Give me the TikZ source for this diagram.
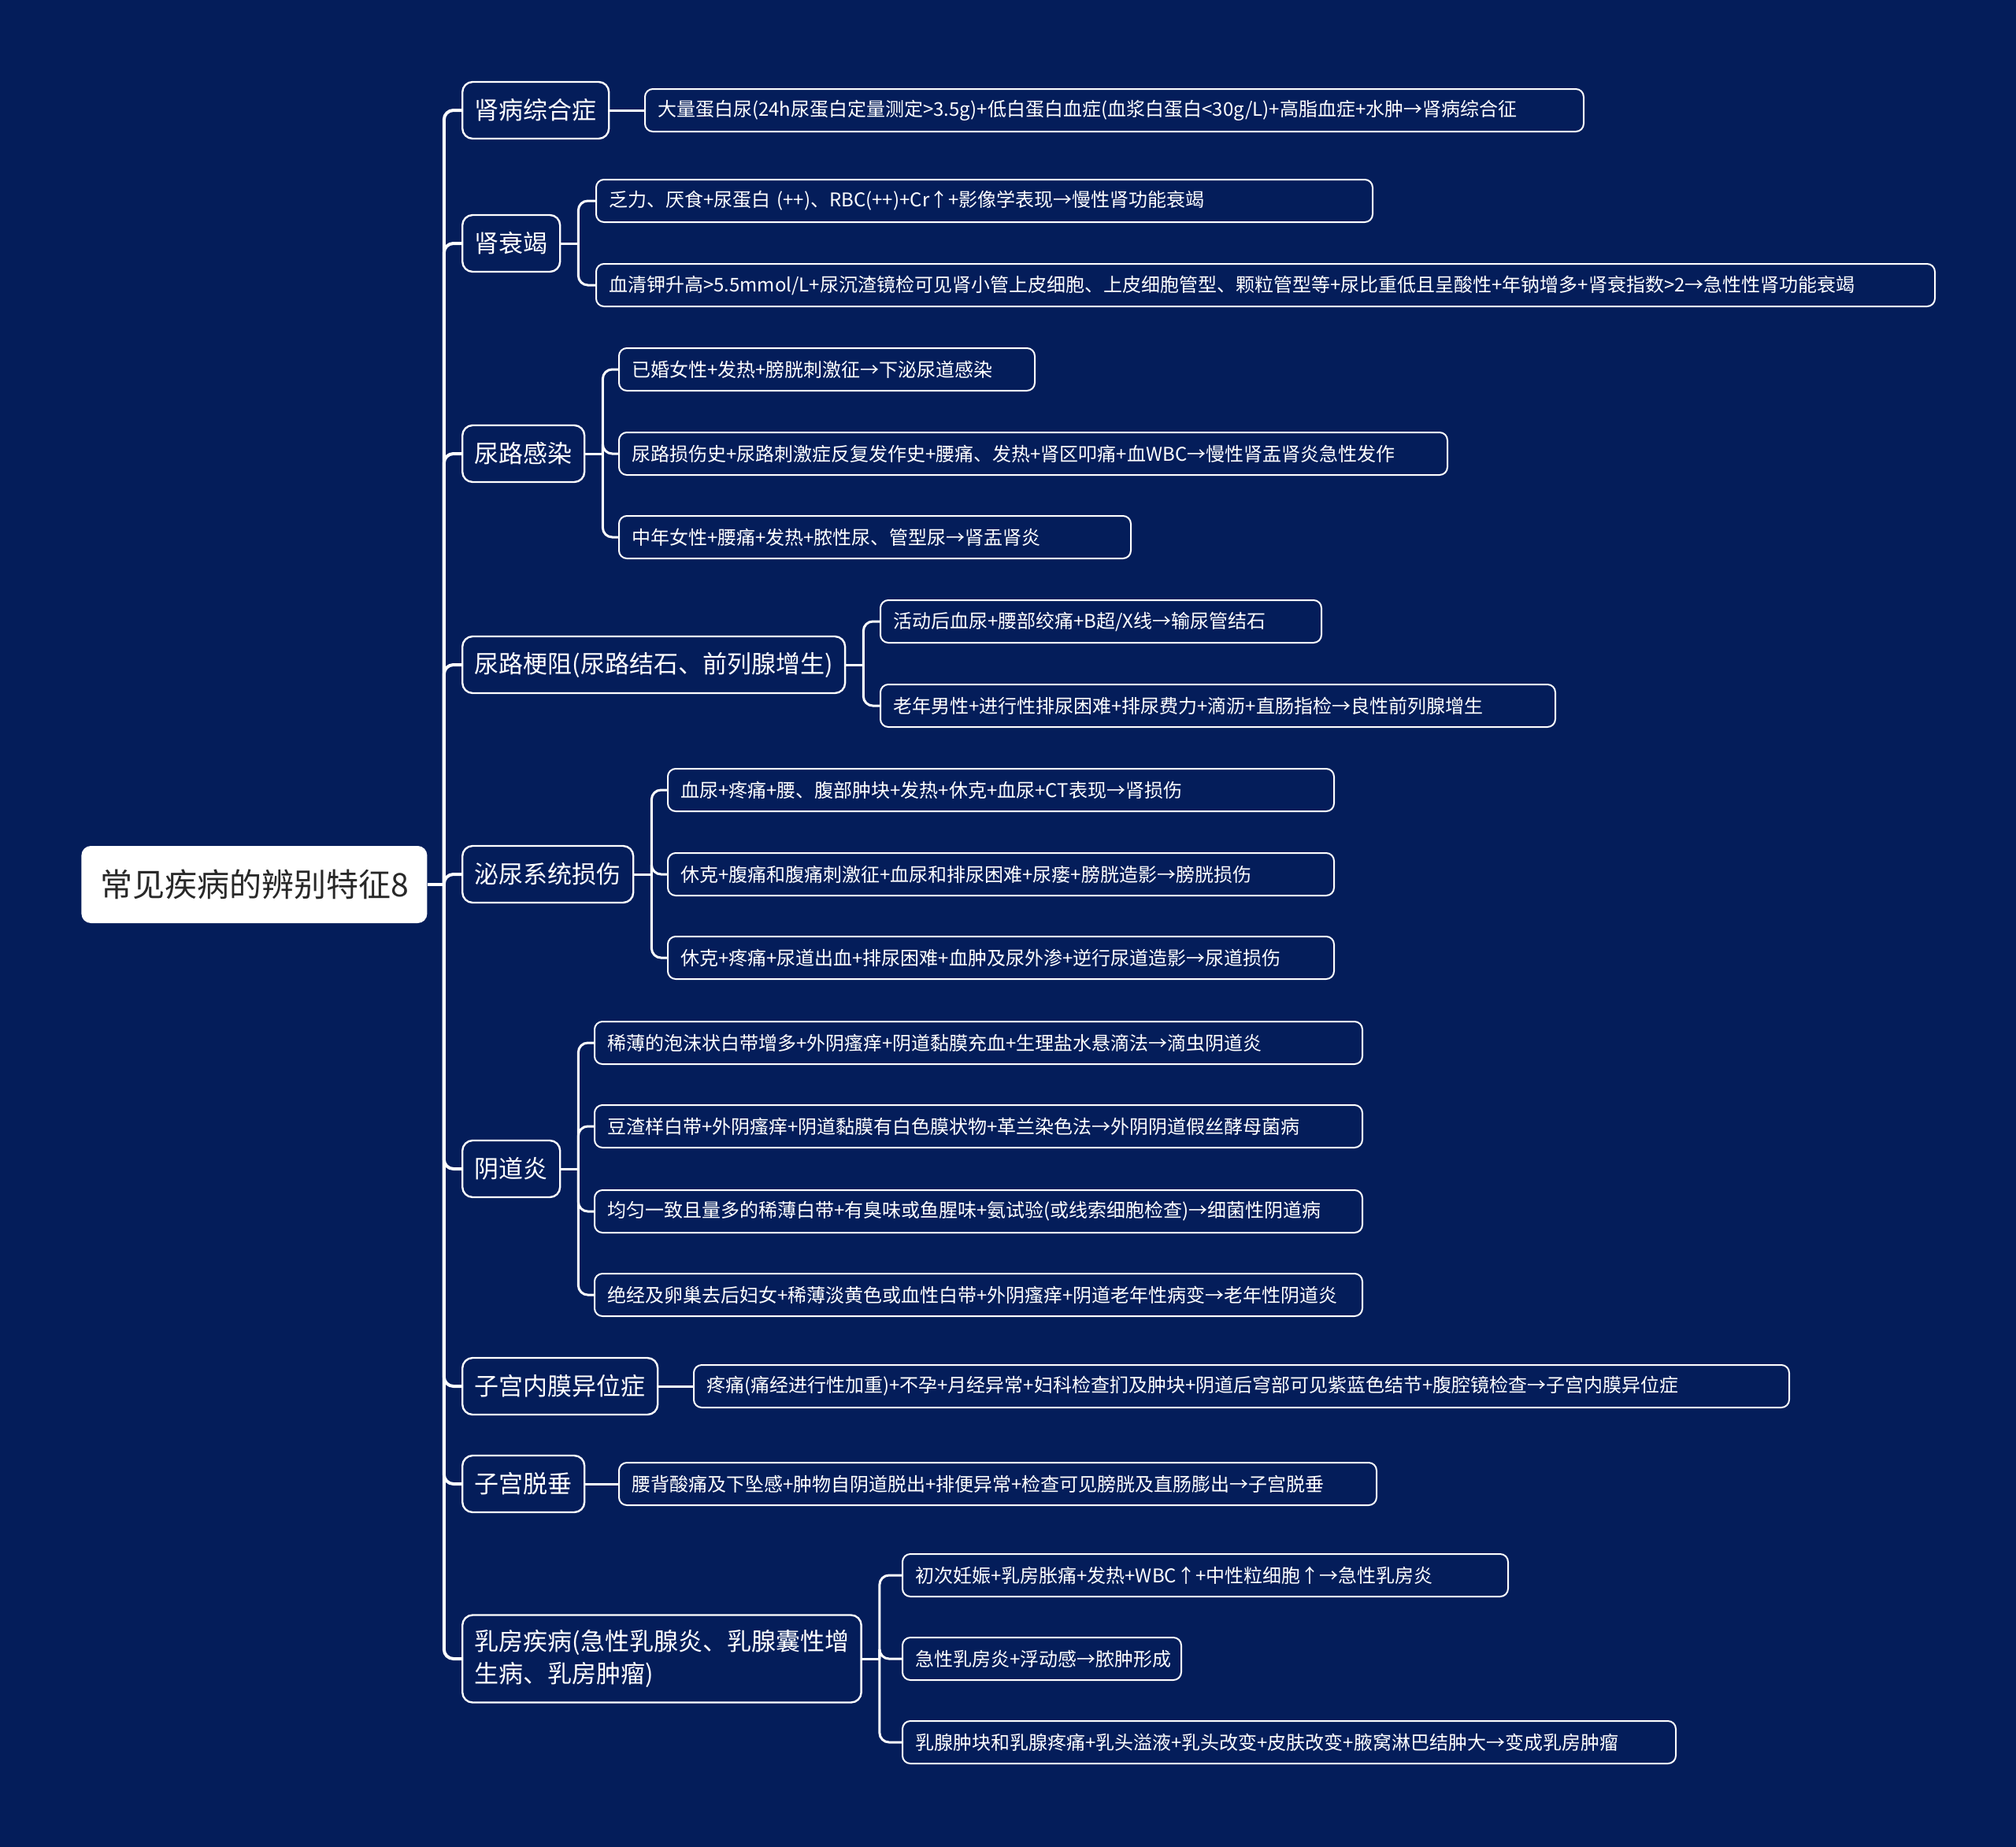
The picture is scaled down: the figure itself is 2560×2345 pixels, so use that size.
\documentclass[tikz,border=0pt]{standalone}
\usepackage{fontspec}
\setmainfont{Noto Sans CJK SC}
\usetikzlibrary{positioning}
\definecolor{navy}{RGB}{4,29,90}
\definecolor{rootink}{RGB}{40,40,40}

\begin{document}
\begin{tikzpicture}[x=0.5pt,y=-0.5pt,
    trunk/.style={draw=white,line width=2pt,rounded corners=6pt},
    twig/.style={draw=white,line width=1.5pt,rounded corners=6pt},
    rootbox/.style={fill=white,text=rootink,rounded corners=6pt,anchor=west,
      minimum width=219.5pt,minimum height=49pt,font=\fontsize{20.5pt}{24pt}\selectfont},
    topic/.style={draw=white,line width=1.2pt,fill=navy,text=white,rounded corners=6.5pt,
      anchor=west,minimum height=36pt,inner xsep=7.75pt,inner ysep=4pt,align=left,
      font=\fontsize{15.5pt}{20.5pt}\selectfont},
    leaf/.style={draw=white,line width=1pt,fill=navy,text=white,rounded corners=5pt,
      anchor=west,minimum height=27pt,inner xsep=8pt,inner ysep=2pt,text width=#1,
      align=left,font=\fontsize{12pt}{15pt}\selectfont}]
  \fill[navy] (0,0) rectangle (2560,2345);
  \useasboundingbox (0,0) rectangle (2560,2345);

  \node[rootbox] (root) at (103,1123) {常见疾病的辨别特征8};

  % main branches
  \node[topic] (m1) at (586,140) {肾病综合症};
  \node[topic] (m2) at (586,309) {肾衰竭};
  \node[topic] (m3) at (586,576) {尿路感染};
  \node[topic] (m4) at (586,844) {尿路梗阻(尿路结石、前列腺增生)};
  \node[topic] (m5) at (586,1110) {泌尿系统损伤};
  \node[topic] (m6) at (586,1484) {阴道炎};
  \node[topic] (m7) at (586,1760) {子宫内膜异位症};
  \node[topic] (m8) at (586,1884) {子宫脱垂};
  \node[topic,minimum height=55.5pt] (m9) at (586,2106) {乳房疾病(急性乳腺炎、乳腺囊性增\\生病、乳房肿瘤)};

  % leaves
  \node[leaf=580pt] (m1a) at (818,140) {大量蛋白尿(24h尿蛋白定量测定>3.5g)+低白蛋白血症(血浆白蛋白<30g/L)+高脂血症+水肿→肾病综合征};
  \node[leaf=477pt] (m2a) at (756,255) {乏力、厌食+尿蛋白 (++)、RBC(++)+Cr↑+影像学表现→慢性肾功能衰竭};
  \node[leaf=834pt] (m2b) at (756,362) {血清钾升高>5.5mmol/L+尿沉渣镜检可见肾小管上皮细胞、上皮细胞管型、颗粒管型等+尿比重低且呈酸性+年钠增多+肾衰指数>2→急性性肾功能衰竭};
  \node[leaf=248pt] (m3a) at (785,469) {已婚女性+发热+膀胱刺激征→下泌尿道感染};
  \node[leaf=510pt] (m3b) at (785,576) {尿路损伤史+尿路刺激症反复发作史+腰痛、发热+肾区叩痛+血WBC→慢性肾盂肾炎急性发作};
  \node[leaf=309pt] (m3c) at (785,682) {中年女性+腰痛+发热+脓性尿、管型尿→肾盂肾炎};
  \node[leaf=264pt] (m4a) at (1117,789) {活动后血尿+腰部绞痛+B超/X线→输尿管结石};
  \node[leaf=412.5pt] (m4b) at (1117,896) {老年男性+进行性排尿困难+排尿费力+滴沥+直肠指检→良性前列腺增生};
  \node[leaf=407pt] (m5a) at (847,1003) {血尿+疼痛+腰、腹部肿块+发热+休克+血尿+CT表现→肾损伤};
  \node[leaf=407pt] (m5b) at (847,1110) {休克+腹痛和腹痛刺激征+血尿和排尿困难+尿瘘+膀胱造影→膀胱损伤};
  \node[leaf=407pt] (m5c) at (847,1216) {休克+疼痛+尿道出血+排尿困难+血肿及尿外渗+逆行尿道造影→尿道损伤};
  \node[leaf=471.5pt] (m6a) at (754,1324) {稀薄的泡沫状白带增多+外阴瘙痒+阴道黏膜充血+生理盐水悬滴法→滴虫阴道炎};
  \node[leaf=471.5pt] (m6b) at (754,1430) {豆渣样白带+外阴瘙痒+阴道黏膜有白色膜状物+革兰染色法→外阴阴道假丝酵母菌病};
  \node[leaf=471.5pt] (m6c) at (754,1538) {均匀一致且量多的稀薄白带+有臭味或鱼腥味+氨试验(或线索细胞检查)→细菌性阴道病};
  \node[leaf=471.5pt] (m6d) at (754,1644) {绝经及卵巢去后妇女+稀薄淡黄色或血性白带+外阴瘙痒+阴道老年性病变→老年性阴道炎};
  \node[leaf=679.5pt] (m7a) at (880,1760) {疼痛(痛经进行性加重)+不孕+月经异常+妇科检查扪及肿块+阴道后穹部可见紫蓝色结节+腹腔镜检查→子宫内膜异位症};
  \node[leaf=465pt] (m8a) at (785,1884) {腰背酸痛及下坠感+肿物自阴道脱出+排便异常+检查可见膀胱及直肠膨出→子宫脱垂};
  \node[leaf=368.5pt] (m9a) at (1145,2000) {初次妊娠+乳房胀痛+发热+WBC↑+中性粒细胞↑→急性乳房炎};
  \node[leaf=161pt] (m9b) at (1145,2106) {急性乳房炎+浮动感→脓肿形成};
  \node[leaf=475pt] (m9c) at (1145,2212) {乳腺肿块和乳腺疼痛+乳头溢液+乳头改变+皮肤改变+腋窝淋巴结肿大→变成乳房肿瘤};

  % trunk
  \draw[trunk] (root.east) -- ++(21,0) coordinate (hub);
  \foreach \i in {1,...,9}
    \draw[trunk] (hub) |- (m\i.west);

  % twigs
  \draw[twig] (m1.east) -- (m1a.west);
  \draw[twig] (m2.east) -- ++(22,0) coordinate (b2);
  \foreach \c in {m2a,m2b} \draw[twig] (b2) |- (\c.west);
  \draw[twig] (m3.east) -- ++(22,0) coordinate (b3);
  \foreach \c in {m3a,m3b,m3c} \draw[twig] (b3) |- (\c.west);
  \draw[twig] (m4.east) -- ++(22,0) coordinate (b4);
  \foreach \c in {m4a,m4b} \draw[twig] (b4) |- (\c.west);
  \draw[twig] (m5.east) -- ++(22,0) coordinate (b5);
  \foreach \c in {m5a,m5b,m5c} \draw[twig] (b5) |- (\c.west);
  \draw[twig] (m6.east) -- ++(22,0) coordinate (b6);
  \foreach \c in {m6a,m6b,m6c,m6d} \draw[twig] (b6) |- (\c.west);
  \draw[twig] (m7.east) -- (m7a.west);
  \draw[twig] (m8.east) -- (m8a.west);
  \draw[twig] (m9.east) -- ++(22,0) coordinate (b9);
  \foreach \c in {m9a,m9b,m9c} \draw[twig] (b9) |- (\c.west);
\end{tikzpicture}
\end{document}
